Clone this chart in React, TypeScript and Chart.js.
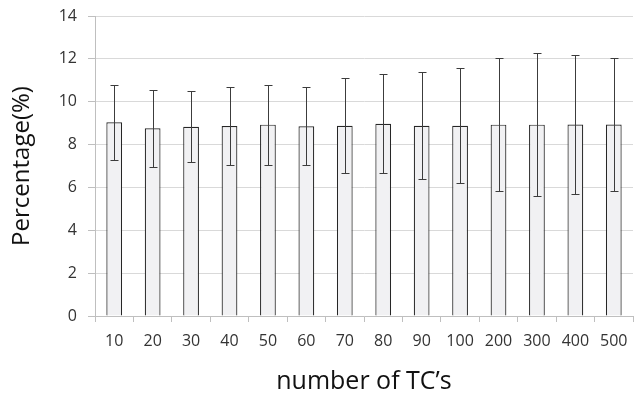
import React, { useEffect, useRef } from "react";
import { Chart, registerables } from "chart.js";

Chart.register(...registerables);

const categories = ["10", "20", "30", "40", "50", "60", "70", "80", "90", "100", "200", "300", "400", "500"];
const meanValues = [9.04, 8.76, 8.83, 8.87, 8.93, 8.85, 8.88, 8.97, 8.88, 8.88, 8.93, 8.93, 8.94, 8.94];
const upperValues = [10.77, 10.56, 10.48, 10.69, 10.8, 10.7, 11.11, 11.28, 11.39, 11.59, 12.04, 12.26, 12.18, 12.05];
const lowerValues = [7.26, 6.95, 7.19, 7.05, 7.06, 7.03, 6.69, 6.69, 6.38, 6.19, 5.82, 5.6, 5.71, 5.82];
const yTicks = [0, 2, 4, 6, 8, 10, 12, 14];

const FONT = "'Open Sans', 'Noto Sans', sans-serif";

const errorBarPlugin = {
  id: "errorBars",
  afterDatasetsDraw(chart: any) {
    const meta = chart.getDatasetMeta(0);
    const y = chart.scales.y;
    const ctx = chart.ctx;
    ctx.save();
    ctx.strokeStyle = "#3c3c3c";
    ctx.lineWidth = 1;
    meta.data.forEach((bar: any, i: number) => {
      const x = Math.round(bar.x) + 0.5;
      const yHi = Math.round(y.getPixelForValue(upperValues[i])) + 0.5;
      const yLo = Math.round(y.getPixelForValue(lowerValues[i])) + 0.5;
      ctx.beginPath();
      ctx.moveTo(x, yHi);
      ctx.lineTo(x, yLo);
      ctx.moveTo(x - 4, yHi);
      ctx.lineTo(x + 4, yHi);
      ctx.moveTo(x - 4, yLo);
      ctx.lineTo(x + 4, yLo);
      ctx.stroke();
    });
    ctx.restore();
  },
};

export default function App() {
  const ref = useRef<HTMLCanvasElement>(null);
  useEffect(() => {
    if (!ref.current) return;
    const chart = new Chart(ref.current, {
      type: "bar",
      data: {
        labels: categories,
        datasets: [
          {
            data: meanValues,
            backgroundColor: "#f1f1f3",
            borderColor: "#262626",
            borderWidth: 1.2,
            categoryPercentage: 1,
            barPercentage: 0.41,
          },
        ],
      },
      options: {
        animation: false,
        responsive: true,
        maintainAspectRatio: false,
        layout: { padding: { top: 16, right: 3, bottom: 0, left: 0 } },
        plugins: { legend: { display: false }, tooltip: { enabled: false } },
        scales: {
          x: {
            afterFit(scale: any) {
              scale.height = 77;
              scale.paddingLeft = 0;
              scale.paddingRight = 0;
            },
            grid: {
              drawOnChartArea: false,
              drawTicks: true,
              tickLength: 6,
              tickColor: "#bfbfbf",
              offset: true,
            },
            border: { color: "#bfbfbf", width: 1 },
            ticks: {
              color: "#333333",
              font: { family: FONT, size: 16 },
              padding: 10,
              maxRotation: 0,
              autoSkip: false,
            },
            title: {
              display: true,
              text: "number of TC\u2019s",
              color: "#111111",
              font: { family: FONT, size: 25, lineHeight: 0.88 },
              padding: { top: 0, bottom: 0 },
            },
          },
          y: {
            min: 0,
            max: 14,
            afterFit(scale: any) {
              scale.width = 95;
              scale.paddingTop = 0;
              scale.paddingBottom = 0;
            },
            afterBuildTicks(scale: any) {
              scale.ticks = yTicks.map((v) => ({ value: v }));
            },
            grid: {
              color: "#d9d9d9",
              tickColor: "#bfbfbf",
              tickLength: 7,
              drawTicks: true,
            },
            border: { color: "#bfbfbf", width: 1 },
            ticks: {
              color: "#333333",
              font: { family: FONT, size: 16 },
              padding: 11,
            },
            title: {
              display: true,
              text: "Percentage(%)",
              color: "#111111",
              font: { family: FONT, size: 24, lineHeight: 1.2 },
              padding: { top: 8, bottom: 0 },
            },
          },
        },
      },
      plugins: [errorBarPlugin],
    });
    return () => chart.destroy();
  }, []);
  return (
    <div style={{ position: "absolute", left: 0, top: 0, width: 636, height: 393 }}>
      <canvas ref={ref} />
    </div>
  );
}
